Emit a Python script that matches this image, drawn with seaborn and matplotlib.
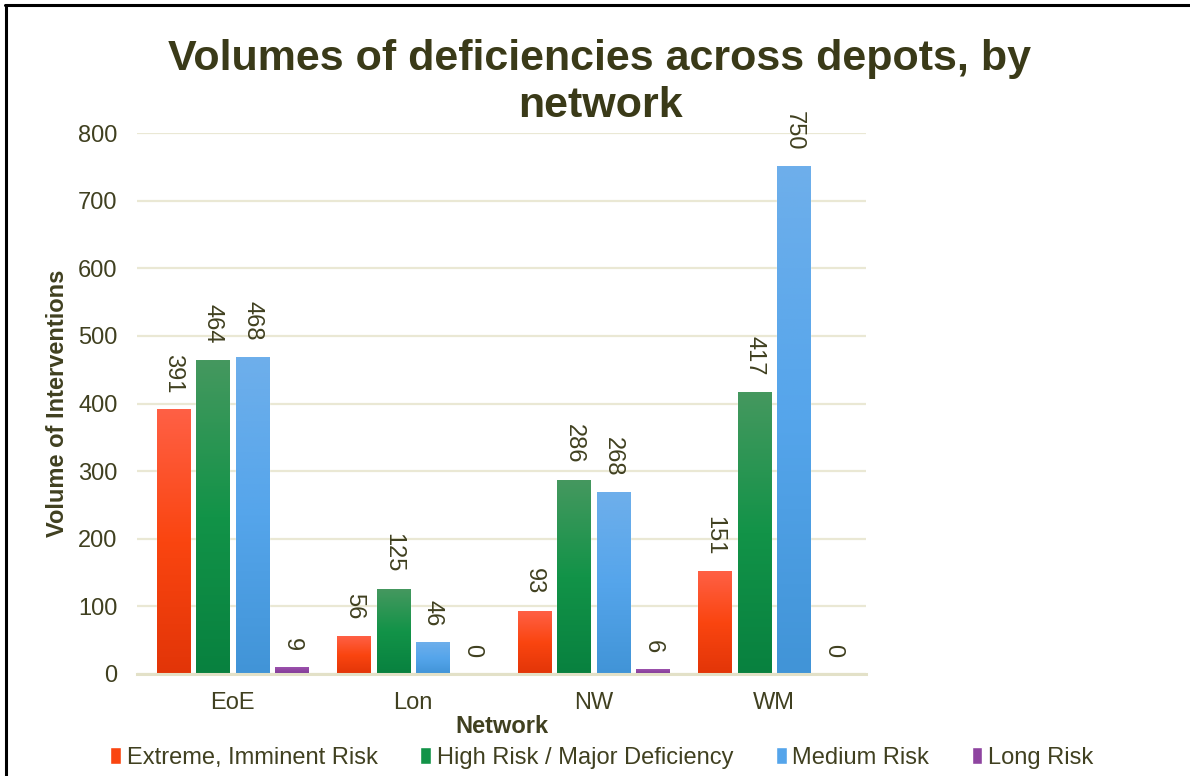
import numpy as np
import pandas as pd
import matplotlib
matplotlib.use("Agg")
import matplotlib.pyplot as plt
import seaborn as sns
from matplotlib.colors import LinearSegmentedColormap
from matplotlib.lines import Line2D

# ---------------- data ----------------
networks = ["EoE", "Lon", "NW", "WM"]
risk_levels = ["Extreme, Imminent Risk", "High Risk / Major Deficiency",
               "Medium Risk", "Long Risk"]
extreme = [391, 56, 93, 151]
high = [464, 125, 286, 417]
medium = [468, 46, 268, 750]
long_risk = [9, 0, 6, 0]
y_ticks = [0, 100, 200, 300, 400, 500, 600, 700, 800]

title_lines = ["Volumes of deficiencies across depots, by", "network"]
x_label = "Network"
y_label = "Volume of Interventions"

# ---------------- styles ----------------
text_color = "#404020"
title_color = "#3A3A18"
grid_color = "#EAE8D4"
mid_colors = ["#FA4510", "#129348", "#55A5EB", "#8E44A0"]
grad_stops = [
    ["#E23508", "#FA4510", "#FF6045"],
    ["#08813F", "#129348", "#45985F"],
    ["#4194D7", "#55A5EB", "#6EAFEB"],
    ["#7E3A96", "#8E44A0", "#9C52AD"],
]

series = [extreme, high, medium, long_risk]
rows = []
for risk, vals in zip(risk_levels, series):
    for net, v in zip(networks, vals):
        rows.append({"Network": net, "Risk": risk, "Volume": v})
df = pd.DataFrame(rows)

sns.set_theme(style="white")
plt.rcParams["font.family"] = ["Liberation Sans", "DejaVu Sans"]

W, H = 1190, 776
fig = plt.figure(figsize=(W / 100, H / 100), dpi=100)
fig.patch.set_facecolor("white")
ax = fig.add_axes([137 / W, 1 - 674 / H, (866 - 137) / W, (674 - 133) / H])

sns.barplot(data=df, x="Network", y="Volume", hue="Risk",
            order=networks, hue_order=risk_levels, palette=mid_colors,
            saturation=1, width=0.876, gap=0.16, errorbar=None, ax=ax)

handles, labels = ax.get_legend_handles_labels()
if ax.get_legend() is not None:
    ax.get_legend().remove()

# gradient fill and labels
for i, cont in enumerate(ax.containers):
    cmap = LinearSegmentedColormap.from_list(f"g{i}", grad_stops[i])
    grad = np.linspace(0, 1, 256).reshape(-1, 1)
    for bar in cont:
        x0, y0 = bar.get_x(), bar.get_y()
        w, h = bar.get_width(), bar.get_height()
        if h > 0:
            ax.imshow(grad, extent=[x0, x0 + w, y0, y0 + h], origin="lower",
                      aspect="auto", cmap=cmap, zorder=bar.get_zorder() + 0.1,
                      interpolation="bilinear")
    vals = series[i]
    ax.bar_label(cont, labels=[str(v) for v in vals], rotation=-90,
                 padding=12, fontsize=17, color=text_color)

ax.set_xlim(-0.53, 3.51)
ax.set_ylim(0, 800)
ax.set_yticks(y_ticks)
ax.set_yticklabels([str(t) for t in y_ticks])

for s in ["left", "right", "top"]:
    ax.spines[s].set_visible(False)
ax.spines["bottom"].set_color("#E3E1C8")
ax.spines["bottom"].set_linewidth(2.2)
ax.yaxis.grid(True, color=grid_color, linewidth=1.6)
ax.set_axisbelow(True)

ax.tick_params(axis="y", length=0, pad=14, labelsize=17, labelcolor=text_color)
ax.tick_params(axis="x", length=0, pad=13, labelsize=17, labelcolor=text_color)

ax.set_xlabel(x_label, fontsize=17, fontweight="bold", color=text_color, labelpad=1)
ax.set_ylabel(y_label, fontsize=17, fontweight="bold", color=text_color)
ax.yaxis.set_label_coords(-0.093, 0.5)

for line, base in zip(title_lines, [70, 117]):
    fig.text(600 / W, 1 - base / H, line, ha="center", va="baseline",
             fontsize=31, fontweight="bold", color=title_color)

fig.legend(handles, labels, loc="center", bbox_to_anchor=(602 / W, 1 - 758 / H),
           ncol=4, frameon=False, fontsize=17, handlelength=0.45,
           handleheight=0.7, handletextpad=0.25, columnspacing=1.8,
           labelcolor=text_color)

# chart border (top and left edges visible)
fig.add_artist(Line2D([5 / W, 1], [1 - 5 / H, 1 - 5 / H], color="black",
                      linewidth=2.2, transform=fig.transFigure))
fig.add_artist(Line2D([6 / W, 6 / W], [0, 1 - 5 / H], color="black",
                      linewidth=2.2, transform=fig.transFigure))

fig.savefig("out.png", dpi=100, facecolor="white")
